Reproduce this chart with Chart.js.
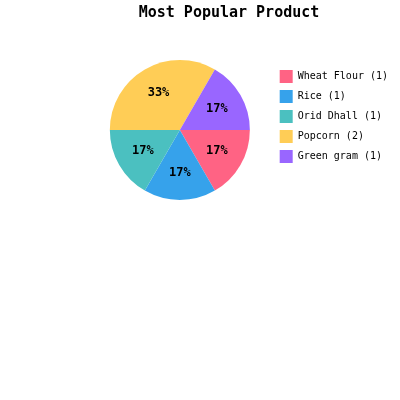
<!DOCTYPE html>
<html><head><meta charset="utf-8">
<script src="https://cdn.jsdelivr.net/npm/chart.js@4/dist/chart.umd.min.js"></script>
<style>html,body{margin:0;padding:0;background:#fff}canvas{display:block}</style>
</head><body>
<canvas id="c" width="400" height="400"></canvas>
<script>
const titleText = 'Most Popular Product';
const categories = ['Wheat Flour', 'Rice', 'Orid Dhall', 'Popcorn', 'Green gram'];
const counts = [1, 1, 1, 2, 1];
const colors = ['rgb(255,99,132)', 'rgb(54,162,235)', 'rgb(75,192,192)', 'rgb(255,205,86)', 'rgb(153,102,255)'];
const legendLabels = categories.map((c, i) => c + ' (' + counts[i] + ')');
const FONT = '"DejaVu Sans Mono", monospace';

const titlePlugin = {
  id: 'fixedTitle',
  afterDraw(chart) {
    const ctx = chart.ctx;
    ctx.save();
    ctx.font = 'bold 15px ' + FONT;
    ctx.fillStyle = '#000';
    ctx.textAlign = 'center';
    ctx.textBaseline = 'middle';
    ctx.fillText(titleText, 229, 13);
    ctx.restore();
  }
};

const pctPlugin = {
  id: 'pctLabels',
  afterDatasetsDraw(chart) {
    const meta = chart.getDatasetMeta(0);
    const data = chart.data.datasets[0].data;
    const total = data.reduce((a, b) => a + b, 0);
    const ctx = chart.ctx;
    ctx.save();
    ctx.font = 'bold 12px ' + FONT;
    ctx.fillStyle = '#000';
    ctx.textAlign = 'center';
    ctx.textBaseline = 'middle';
    meta.data.forEach((arc, i) => {
      const p = arc.getProps(['x', 'y', 'startAngle', 'endAngle', 'outerRadius']);
      const mid = (p.startAngle + p.endAngle) / 2;
      const r = p.outerRadius * 0.61;
      ctx.fillText(Math.round(data[i] / total * 100) + '%', p.x + Math.cos(mid) * r, p.y + Math.sin(mid) * r);
    });
    ctx.restore();
  }
};

new Chart(document.getElementById('c'), {
  type: 'pie',
  data: {
    labels: legendLabels,
    datasets: [{ data: counts, backgroundColor: colors, borderWidth: 0 }]
  },
  options: {
    responsive: false,
    animation: false,
    devicePixelRatio: 1,
    rotation: 90,
    layout: { padding: { top: 60, bottom: 200, left: 87, right: 2 } },
    plugins: {
      tooltip: { enabled: false },
      title: { display: false },
      legend: {
        position: 'right',
        align: 'start',
        title: { display: true, text: '', padding: 0, font: { size: 2, lineHeight: '3px' } },
        labels: {
          boxWidth: 13,
          boxHeight: 13,
          padding: 7,
          color: '#000',
          font: { family: FONT, size: 10 }
        }
      }
    }
  },
  plugins: [pctPlugin, titlePlugin]
});
</script>
</body></html>
